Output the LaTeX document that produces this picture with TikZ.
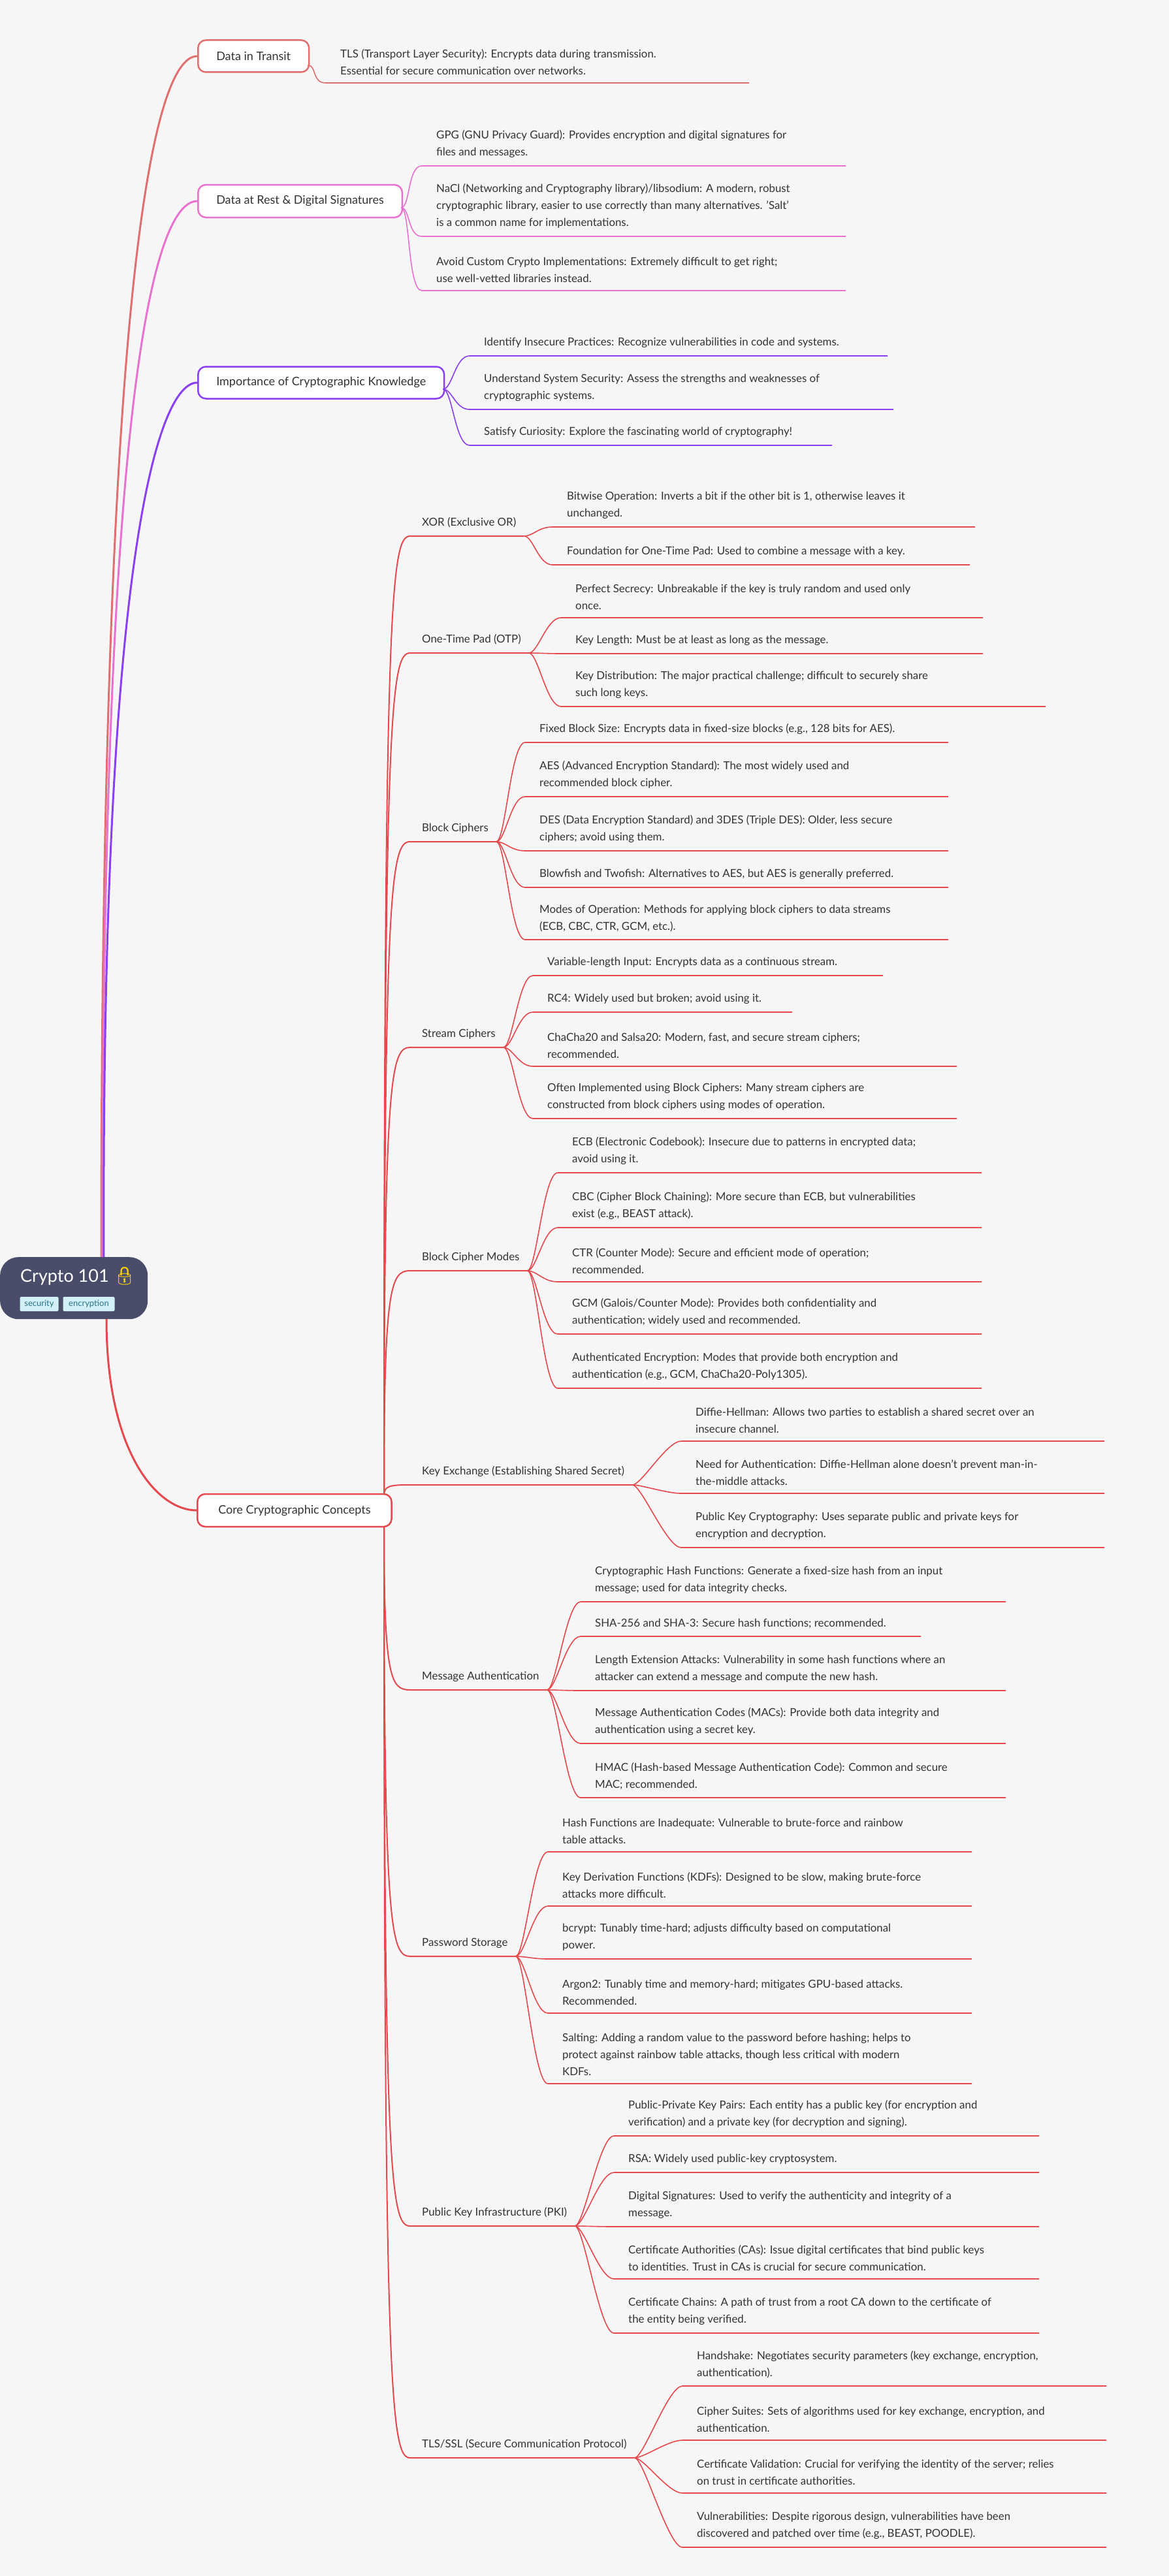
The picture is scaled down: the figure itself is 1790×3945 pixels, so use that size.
\documentclass[tikz,border=0pt]{standalone}
\usepackage{fontspec}
\setmainfont{Lato}
\newfontfamily\emojifont{Noto Emoji}
\usetikzlibrary{calc}
\definecolor{bg}{HTML}{F6F6F6}
\definecolor{cT}{HTML}{E0706F}
\definecolor{cR}{HTML}{E872CF}
\definecolor{cI}{HTML}{8A3FF0}
\definecolor{cC}{HTML}{E5484D}
\definecolor{rootc}{HTML}{4A4D69}
\definecolor{txt}{HTML}{333333}
\definecolor{tagf}{HTML}{D3F0F7}
\definecolor{tagt}{HTML}{2A7487}
\def\lc{cC}
\tikzset{
 leaftxt/.style={inner sep=0pt,align=left,text=txt,font=\fontsize{16.85}{26}\selectfont},
 subtxt/.style={inner sep=0pt,text=txt,font=\fontsize{16.85}{26}\selectfont},
 leafline/.style={draw=\lc,line width=1.6pt},
 topbox/.style={draw=#1,line width=2.5pt,fill=white,rounded corners=12pt,inner xsep=28pt,inner ysep=0pt,minimum height=49pt,text=txt,font=\fontsize{18}{20}\selectfont,anchor=west},
 topline/.style={draw=#1,line width=3pt},
 tag/.style={fill=tagf,text=tagt,rounded corners=2pt,inner sep=0pt,minimum height=22pt,font=\fontsize{13}{15}\selectfont}
}
\newcommand\leaf[6]{%
 \node[leaftxt,anchor=south west] (#1) at (#3,#4-12) {#6};
 \coordinate (#1s) at (#3-22,#4);
 \coordinate (#1e) at (#5,#4);
 \draw[leafline] (#2) .. controls ($(#2)+(14,0)$) and ($(#1s)+(-22,0)$) .. (#1s) -- (#1e);
}
\newcommand\sub[3]{%
 \node[subtxt,anchor=base west] (#1) at (646,#2+5) {#3};
 \coordinate (#1s) at (628,#2+21);
 \coordinate (#1e) at ($(#1.east |- #1s)+(12,0)$);
 \draw[leafline,line width=2pt] (hub) .. controls ($(hub)!0.93!(hub |- #1s)$) and ($(#1s)+(-30,0)$) .. (#1s) -- (#1e);
}
\begin{document}
\begin{tikzpicture}[x=1pt,y=-1pt]
\fill[bg] (0,0) rectangle (1790,3945);
\useasboundingbox (0,0) rectangle (1790,3945);
% root
\node[fill=rootc,rounded corners=28pt,minimum width=226pt,minimum height=95pt,inner sep=0pt,anchor=north west] (root) at (0,1925) {};
\node[anchor=base west,inner sep=0pt,text=white,font=\fontsize{27}{30}\selectfont] (title) at (31,1963) {Crypto 101 {\emojifont\textcolor{yellow!70!orange}{🔒}}};
\node[tag,minimum width=59pt] (t1) at (60,1997) {security};
\node[tag,minimum width=79pt] (t2) at (136,1997) {encryption};
\coordinate (rtop) at (155,1925);
\coordinate (rbot) at (163,2020);
% connectors from root
\coordinate (ditw) at (302,86);
\coordinate (darw) at (302,308);
\coordinate (impw) at (302,586);
\coordinate (corew) at (301,2313);
\draw[topline=cT] (rtop) .. controls ($(rtop)!0.85!(rtop |- ditw)$) and ($(ditw)+(-60,0)$) .. (ditw);
\draw[topline=cR] ([xshift=2pt]rtop) .. controls ($(rtop)!0.85!(rtop |- darw)$) and ($(darw)+(-60,0)$) .. (darw);
\draw[topline=cI] ([xshift=4pt]rtop) .. controls ($(rtop)!0.8!(rtop |- impw)$) and ($(impw)+(-60,0)$) .. (impw);
\draw[topline=cC] (rbot) .. controls ($(rbot)!0.7!(rbot |- corew)$) and ($(corew)+(-60,0)$) .. (corew);
% top level boxes
\node[topbox=cT] (dit) at (ditw) {Data in Transit};
\node[topbox=cR,minimum height=50pt] (dar) at (darw) {Data at Rest \& Digital Signatures};
\node[topbox=cI] (imp) at (impw) {Importance of Cryptographic Knowledge};
% Data in transit
\def\lc{cT}
\coordinate (ditp) at ($(dit.east)+(-3,14)$);
\leaf{d1}{ditp}{521}{127}{1147}{TLS (Transport Layer Security): Encrypts data during transmission.\\Essential for secure communication over networks.}
\def\lc{cR}
\coordinate (darp) at ($(dar.east)+(-3,10)$);
\leaf{r1}{darp}{668}{254}{1295}{GPG (GNU Privacy Guard): Provides encryption and digital signatures for\\files and messages.}
\leaf{r2}{darp}{668}{362}{1295}{NaCl (Networking and Cryptography library)/libsodium: A modern, robust\\cryptographic library, easier to use correctly than many alternatives. 'Salt'\\is a common name for implementations.}
\leaf{r3}{darp}{668}{445}{1295}{Avoid Custom Crypto Implementations: Extremely difficult to get right;\\use well-vetted libraries instead.}
\def\lc{cI}
\coordinate (impp) at ($(imp.east)+(-3,10)$);
\leaf{i1}{impp}{741}{545}{1359}{Identify Insecure Practices: Recognize vulnerabilities in code and systems.}
\leaf{i2}{impp}{741}{627}{1368}{Understand System Security: Assess the strengths and weaknesses of\\cryptographic systems.}
\leaf{i3}{impp}{741}{682}{1274}{Satisfy Curiosity: Explore the fascinating world of cryptography!}
% core
\def\lc{cC}
\coordinate (hub) at (588,2290);
\sub{xor}{800}{XOR (Exclusive OR)}
\sub{otp}{979}{One-Time Pad (OTP)}
\sub{bc}{1268}{Block Ciphers}
\sub{sc}{1583}{Stream Ciphers}
\sub{bcm}{1925}{Block Cipher Modes}
\sub{kx}{2253}{Key Exchange (Establishing Shared Secret)}
\coordinate (hub) at (588,2336);
\sub{ma}{2567}{Message Authentication}
\sub{ps}{2975}{Password Storage}
\sub{pki}{3388}{Public Key Infrastructure (PKI)}
\sub{tls}{3743}{TLS/SSL (Secure Communication Protocol)}
\node[topbox=cC,inner xsep=32pt,minimum height=50pt] (core) at (corew) {Core Cryptographic Concepts};

\leaf{x1}{xore}{868}{807}{1493}{Bitwise Operation: Inverts a bit if the other bit is 1, otherwise leaves it\\unchanged.}
\leaf{x2}{xore}{868}{865}{1485}{Foundation for One-Time Pad: Used to combine a message with a key.}

\leaf{o1}{otpe}{881}{946}{1505}{Perfect Secrecy: Unbreakable if the key is truly random and used only\\once.}
\leaf{o2}{otpe}{881}{1001}{1505}{Key Length: Must be at least as long as the message.}
\leaf{o3}{otpe}{881}{1082}{1601}{Key Distribution: The major practical challenge; difficult to securely share\\such long keys.}

\leaf{b1}{bce}{826}{1137}{1452}{Fixed Block Size: Encrypts data in fixed-size blocks (e.g., 128 bits for AES).}
\leaf{b2}{bce}{826}{1220}{1452}{AES (Advanced Encryption Standard): The most widely used and\\recommended block cipher.}
\leaf{b3}{bce}{826}{1303}{1452}{DES (Data Encryption Standard) and 3DES (Triple DES): Older, less secure\\ciphers; avoid using them.}
\leaf{b4}{bce}{826}{1359}{1452}{Blowfish and Twofish: Alternatives to AES, but AES is generally preferred.}
\leaf{b5}{bce}{826}{1439}{1452}{Modes of Operation: Methods for applying block ciphers to data streams\\(ECB, CBC, CTR, GCM, etc.).}

\leaf{s1}{sce}{838}{1494}{1352}{Variable-length Input: Encrypts data as a continuous stream.}
\leaf{s2}{sce}{838}{1550}{1213}{RC4: Widely used but broken; avoid using it.}
\leaf{s3}{sce}{838}{1633}{1465}{ChaCha20 and Salsa20: Modern, fast, and secure stream ciphers;\\recommended.}
\leaf{s4}{sce}{838}{1713}{1465}{Often Implemented using Block Ciphers: Many stream ciphers are\\constructed from block ciphers using modes of operation.}

\leaf{m1}{bcme}{876}{1796}{1503}{ECB (Electronic Codebook): Insecure due to patterns in encrypted data;\\avoid using it.}
\leaf{m2}{bcme}{876}{1880}{1503}{CBC (Cipher Block Chaining): More secure than ECB, but vulnerabilities\\exist (e.g., BEAST attack).}
\leaf{m3}{bcme}{876}{1963}{1503}{CTR (Counter Mode): Secure and efficient mode of operation;\\recommended.}
\leaf{m4}{bcme}{876}{2043}{1503}{GCM (Galois/Counter Mode): Provides both confidentiality and\\authentication; widely used and recommended.}
\leaf{m5}{bcme}{876}{2126}{1503}{Authenticated Encryption: Modes that provide both encryption and\\authentication (e.g., GCM, ChaCha20-Poly1305).}

\leaf{k1}{kxe}{1065}{2207}{1691}{Diffie-Hellman: Allows two parties to establish a shared secret over an\\insecure channel.}
\leaf{k2}{kxe}{1065}{2287}{1691}{Need for Authentication: Diffie-Hellman alone doesn't prevent man-in-\\the-middle attacks.}
\leaf{k3}{kxe}{1065}{2370}{1691}{Public Key Cryptography: Uses separate public and private keys for\\encryption and decryption.}

\leaf{a1}{mae}{911}{2453}{1540}{Cryptographic Hash Functions: Generate a fixed-size hash from an input\\message; used for data integrity checks.}
\leaf{a2}{mae}{911}{2506}{1410}{SHA-256 and SHA-3: Secure hash functions; recommended.}
\leaf{a3}{mae}{911}{2589}{1540}{Length Extension Attacks: Vulnerability in some hash functions where an\\attacker can extend a message and compute the new hash.}
\leaf{a4}{mae}{911}{2670}{1540}{Message Authentication Codes (MACs): Provide both data integrity and\\authentication using a secret key.}
\leaf{a5}{mae}{911}{2753}{1540}{HMAC (Hash-based Message Authentication Code): Common and secure\\MAC; recommended.}

\leaf{p1}{pse}{861}{2836}{1488}{Hash Functions are Inadequate: Vulnerable to brute-force and rainbow\\table attacks.}
\leaf{p2}{pse}{861}{2919}{1488}{Key Derivation Functions (KDFs): Designed to be slow, making brute-force\\attacks more difficult.}
\leaf{p3}{pse}{861}{3000}{1488}{bcrypt: Tunably time-hard; adjusts difficulty based on computational\\power.}
\leaf{p4}{pse}{861}{3083}{1488}{Argon2: Tunably time and memory-hard; mitigates GPU-based attacks.\\Recommended.}
\leaf{p5}{pse}{861}{3191}{1488}{Salting: Adding a random value to the password before hashing; helps to\\protect against rainbow table attacks, though less critical with modern\\KDFs.}

\leaf{q1}{pkie}{962}{3271}{1591}{Public-Private Key Pairs: Each entity has a public key (for encryption and\\verification) and a private key (for decryption and signing).}
\leaf{q2}{pkie}{962}{3327}{1591}{RSA: Widely used public-key cryptosystem.}
\leaf{q3}{pkie}{962}{3410}{1591}{Digital Signatures: Used to verify the authenticity and integrity of a\\message.}
\leaf{q4}{pkie}{962}{3490}{1591}{Certificate Authorities (CAs): Issue digital certificates that bind public keys\\to identities. Trust in CAs is crucial for secure communication.}
\leaf{q5}{pkie}{962}{3573}{1591}{Certificate Chains: A path of trust from a root CA down to the certificate of\\the entity being verified.}

\leaf{l1}{tlse}{1067}{3654}{1694}{Handshake: Negotiates security parameters (key exchange, encryption,\\authentication).}
\leaf{l2}{tlse}{1067}{3737}{1694}{Cipher Suites: Sets of algorithms used for key exchange, encryption, and\\authentication.}
\leaf{l3}{tlse}{1067}{3818}{1694}{Certificate Validation: Crucial for verifying the identity of the server; relies\\on trust in certificate authorities.}
\leaf{l4}{tlse}{1067}{3901}{1694}{Vulnerabilities: Despite rigorous design, vulnerabilities have been\\discovered and patched over time (e.g., BEAST, POODLE).}
\end{tikzpicture}
\end{document}
